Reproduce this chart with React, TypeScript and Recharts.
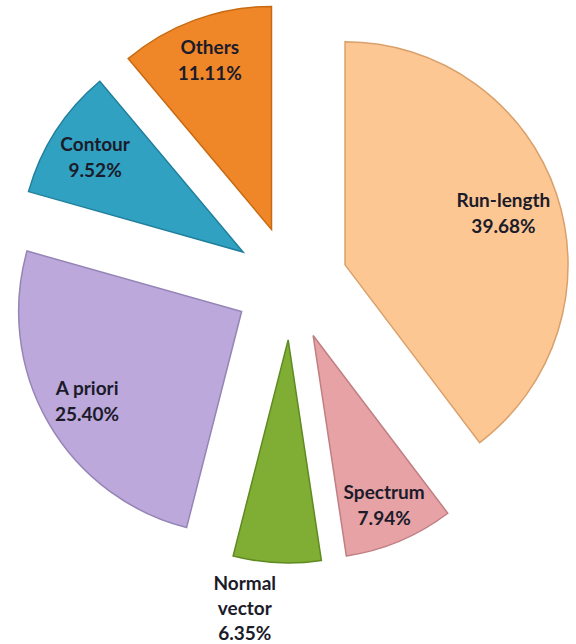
import { PieChart, Pie, Sector, Cell } from "recharts";

const categories = ["Run-length", "Spectrum", "Normal vector", "A priori", "Contour", "Others"];
const shares = [39.68, 7.94, 6.35, 25.4, 9.52, 11.11];

const colors = ["#FDC794", "#E6A2A5", "#80AE34", "#BCA8DA", "#31A1C2", "#EF8729"];
const edges = ["#D9A06A", "#C07F83", "#5F8A22", "#9585B6", "#1F7F9C", "#C86A12"];

// label placement per slice: fraction of radius from the slice tip, plus a small x nudge
const labelRadius = [0.74, 0.82, 1.2, 0.8, 0.79, 0.81];
const labelNudge = [2, 0, -30, 0, 0, 0];

const CX = 291;
const CY = 283;
const R = 223;
const EXPLODE = 57;
const RAD = Math.PI / 180;

const data = categories.map((name, i) => ({ name, value: shares[i] }));

function shift(midAngle: number, d: number) {
  return { dx: d * Math.cos(-midAngle * RAD), dy: d * Math.sin(-midAngle * RAD) };
}

function ExplodedSector(props: any) {
  const { dx, dy } = shift(props.midAngle, EXPLODE);
  const i = props.index ?? 0;
  return (
    <Sector
      {...props}
      cx={CX + dx}
      cy={CY + dy}
      fill={colors[i]}
      stroke={edges[i]}
      strokeWidth={1.5}
    />
  );
}

function renderLabel(props: any) {
  const { midAngle, index } = props;
  const tip = shift(midAngle, EXPLODE);
  const off = shift(midAngle, R * labelRadius[index]);
  const x = CX + tip.dx + off.dx + labelNudge[index];
  const y = CY + tip.dy + off.dy;
  const words = categories[index] === "Normal vector" ? ["Normal", "vector"] : [categories[index]];
  const lines = [...words, `${shares[index].toFixed(2)}%`];
  const lh = index === 2 ? 25 : 26;
  return (
    <g key={`lbl-${index}`}>
      {lines.map((t, k) => (
        <text
          key={k}
          x={x}
          y={y + (k - (lines.length - 1) / 2) * lh}
          textAnchor="middle"
          dominantBaseline="central"
          fill="#1B1B2A"
          fontFamily="Lato, 'Open Sans', sans-serif"
          fontWeight={700}
          fontSize={19}
        >
          {t}
        </text>
      ))}
    </g>
  );
}

export default function App() {
  return (
    <div style={{ position: "absolute", left: 0, top: 0, width: 576, height: 644, background: "#fff" }}>
      <PieChart width={576} height={644}>
        <Pie
          data={data}
          dataKey="value"
          nameKey="name"
          cx={CX}
          cy={CY}
          outerRadius={R}
          startAngle={90}
          endAngle={-270}
          shape={ExplodedSector}
          label={renderLabel}
          labelLine={false}
          isAnimationActive={false}
        >
          {data.map((d, i) => (
            <Cell key={d.name} fill={colors[i]} />
          ))}
        </Pie>
      </PieChart>
    </div>
  );
}
